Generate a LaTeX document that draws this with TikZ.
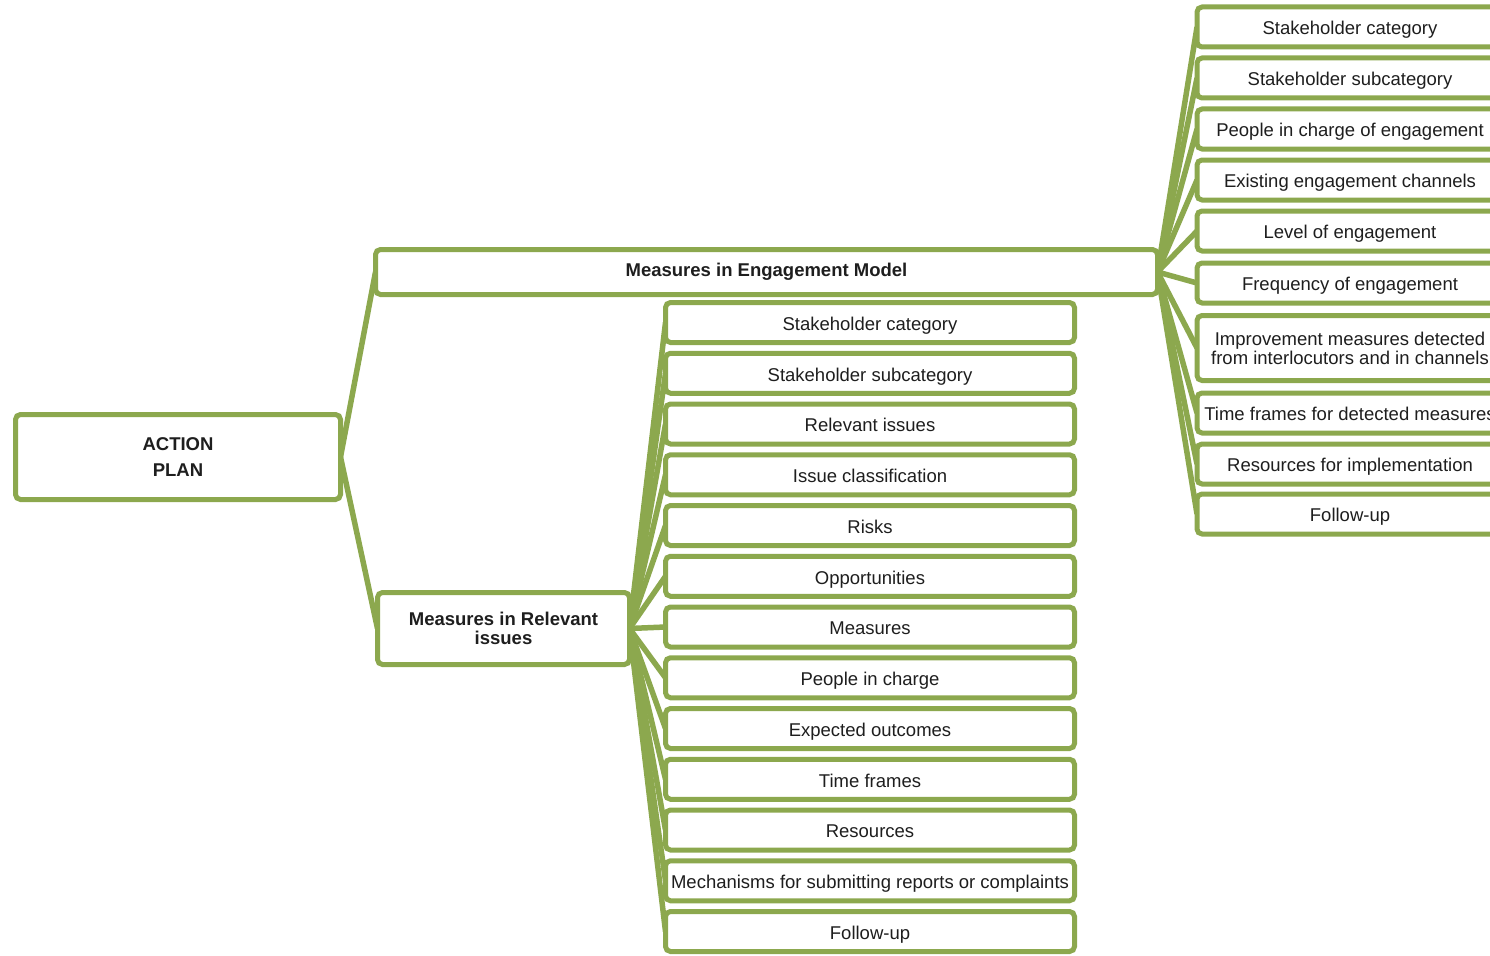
\documentclass[tikz,border=0pt]{standalone}
\usepackage{fontspec}
\setmainfont{Liberation Sans}
\usetikzlibrary{backgrounds}
\definecolor{leaf}{RGB}{140,168,78}
\definecolor{ink}{RGB}{30,30,30}

\begin{document}
\begin{tikzpicture}[x=1pt,y=-1pt,
  box/.style={draw=leaf, line width=5pt, fill=white, rounded corners=5pt,
    inner sep=0pt, outer sep=0pt, text=ink, align=center,
    font=\fontsize{18.5}{19}\selectfont},
  head/.style={box, font=\bfseries\fontsize{18.5}{19}\selectfont},
  oneline/.style={text height=19.5pt, text depth=4pt},
  midbox/.style={box, oneline, minimum width=409pt, minimum height=40pt},
  rightbox/.style={box, minimum width=306pt},
  link/.style={draw=leaf, line width=5.5pt},
]
\useasboundingbox (0,0) rectangle (1490,955);
\clip (0,0) rectangle (1490,955);

% root and the two branches
\node[head, minimum width=325pt, minimum height=85pt,
      font=\bfseries\fontsize{18.5}{26}\selectfont] (plan) at (178,457) {ACTION\\PLAN};
\node[head, minimum width=782pt, minimum height=45pt] (model) at (766.5,272)
  {Measures in Engagement Model};
\node[head, minimum width=252pt, minimum height=72pt] (issues) at (503.5,628.5)
  {Measures in Relevant\\issues};

% items under "Measures in Relevant issues"
\foreach \t [count=\i from 0] in {Stakeholder category, Stakeholder subcategory,
    Relevant issues, Issue classification, Risks, Opportunities, Measures,
    People in charge, Expected outcomes, Time frames, Resources,
    Mechanisms for submitting reports or complaints, Follow-up}
  \node[midbox] (m\i) at (870,{322.5+50.75*\i}) {\t};

% items under "Measures in Engagement Model"
\foreach \c/\t [count=\i] in {27/Stakeholder category,
    78/Stakeholder subcategory, 129/People in charge of engagement,
    180/Existing engagement channels, 231/Level of engagement,
    283/Frequency of engagement}
  \node[rightbox, oneline, minimum height=40pt] (r\i) at (1350,\c) {\t};
\node[rightbox, minimum height=65pt] (r7) at (1350,348)
  {Improvement measures detected\\from interlocutors and in channels};
\foreach \c/\t [count=\i from 8] in {413/Time frames for detected measures,
    464/Resources for implementation, 514/Follow-up}
  \node[rightbox, oneline, minimum height=40pt] (r\i) at (1350,\c) {\t};

% connectors
\begin{scope}[on background layer]
  \draw[link] (plan.east) -- (model.west);
  \draw[link] (plan.east) -- (issues.west);
  \foreach \i in {0,...,12}
    \draw[link] (issues.east) -- (m\i.west);
  \foreach \i in {1,...,10}
    \draw[link] (model.east) -- (r\i.west);
\end{scope}
\end{tikzpicture}
\end{document}
